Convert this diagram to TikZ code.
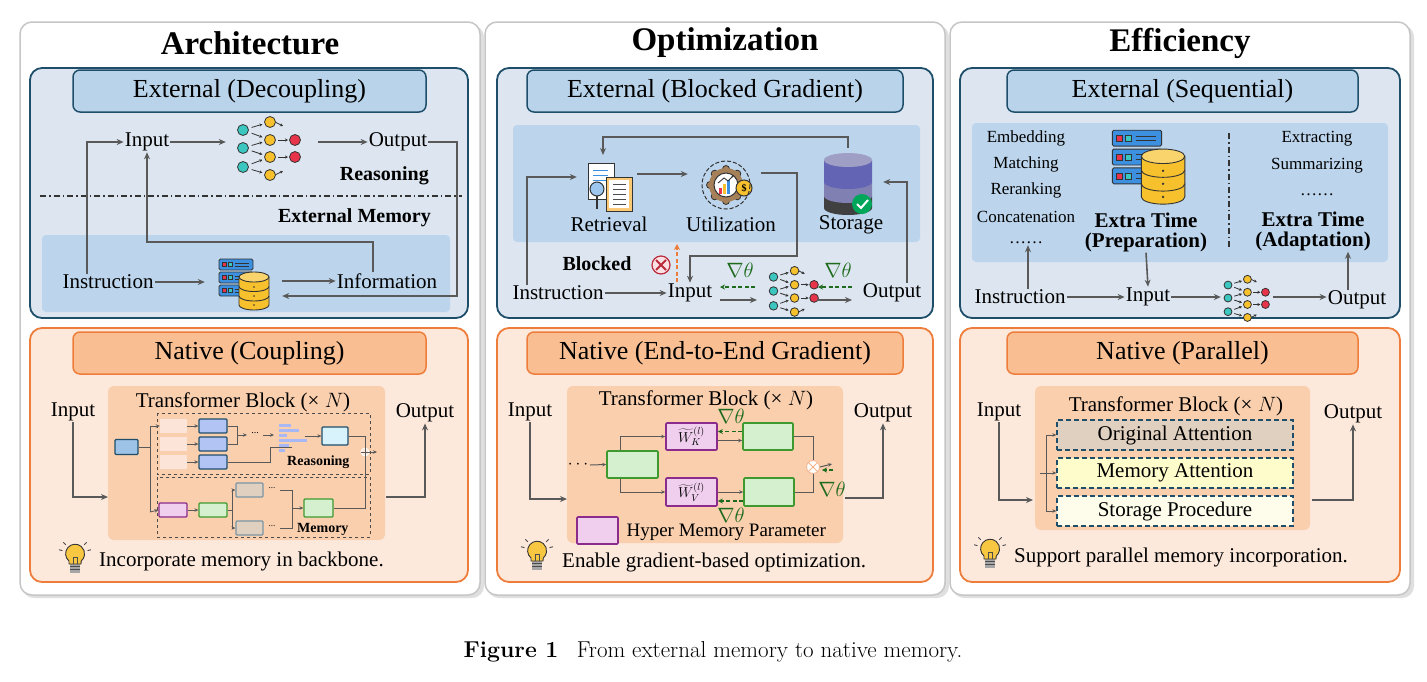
\documentclass[tikz,border=0pt]{standalone}
\usepackage{fontspec}
\setmainfont{Liberation Serif}
\newfontfamily\lmr{Latin Modern Roman}
\usetikzlibrary{arrows.meta,calc}
\definecolor{agray}{HTML}{595959}
\definecolor{extfill}{HTML}{DDE6F0}
\definecolor{extline}{HTML}{1F4E6B}
\definecolor{exthead}{HTML}{B9D4EA}
\definecolor{extin}{HTML}{BCD5EC}
\definecolor{natfill}{HTML}{FDE9DC}
\definecolor{natline}{HTML}{EE7D3B}
\definecolor{nathead}{HTML}{F9BF92}
\definecolor{tblock}{HTML}{F9CFAE}
\definecolor{nteal}{HTML}{3CC6C0}
\definecolor{nyel}{HTML}{F7C12D}
\definecolor{nred}{HTML}{E8344A}
\definecolor{srvblue}{HTML}{3D8FE0}
\definecolor{gdark}{HTML}{1E6B1E}
\definecolor{gbox}{HTML}{D5F0CF}
\definecolor{gboxl}{HTML}{3E9A2E}
\definecolor{pbox}{HTML}{F0CFEE}
\definecolor{pboxl}{HTML}{8B2B8B}
\definecolor{bbox}{HTML}{9DC3E6}
\definecolor{bboxl}{HTML}{1F4E6B}
\definecolor{tanbox}{HTML}{E0D0C0}
\newcommand{\myfs}[1]{\fontsize{#1}{#1}\selectfont}
\tikzset{
  arr/.style={draw=agray, line width=1.6pt, -{Stealth[length=7pt,width=6pt]}},
  sarr/.style={draw=agray, line width=0.8pt, -{Stealth[length=4pt,width=3.5pt]}},
  garr/.style={draw=gdark, line width=1.4pt, dashed, dash pattern=on 4pt off 2.5pt, -{Stealth[length=5pt,width=5pt]}},
  lbl/.style={font=\myfs{21}, inner sep=1pt},
  sml/.style={font=\myfs{17}, inner sep=1pt},
  bl/.style={font=\myfs{20}\bfseries, inner sep=1pt},
  ttl/.style={font=\myfs{33}\bfseries},
  col/.style={draw=gray!45, line width=1.5pt, fill=white, rounded corners=12pt},
  ext/.style={draw=extline, line width=1.8pt, fill=extfill, rounded corners=12pt},
  exth/.style={draw=extline, line width=1.5pt, fill=exthead, rounded corners=7pt, font=\myfs{26}},
  nat/.style={draw=natline, line width=1.8pt, fill=natfill, rounded corners=12pt},
  nath/.style={draw=natline, line width=1.5pt, fill=nathead, rounded corners=7pt, font=\myfs{26}},
  icon/.style={inner sep=0pt, minimum width=#1, minimum height=#1},
  bx/.style={draw=#1, line width=1.2pt, rounded corners=1pt},
  grad/.style={text=gdark, font=\myfs{22}, inner sep=0pt},
  dbx/.style={draw=extline, line width=1.3pt, dashed, dash pattern=on 5pt off 3pt, font=\myfs{21}, minimum width=236pt, minimum height=30pt, inner sep=0pt},
  nn/.pic={
    \foreach \p/\q/\r/\s in {-25/-18/2/-26,-25/-18/2/-8,-25/0/2/-8,-25/0/2/9,-25/19/2/9,-25/19/2/27,2/-8/27/-8,2/9/27/9}
      {\draw[black!80, line width=0.8pt, -{Stealth[length=3pt,width=3pt]}] ($(\p,\q)!0.32!(\r,\s)$) -- ($(\p,\q)!0.72!(\r,\s)$);}
    \draw[black!80, line width=0.8pt, -{Stealth[length=3pt,width=3pt]}] (7,-26) -- (15,-22);
    \draw[black!80, line width=0.8pt, -{Stealth[length=3pt,width=3pt]}] (7,27) -- (15,23);
    \foreach \y in {-18,0,19}{\fill[nteal, draw=black!80, line width=0.8pt] (-25,\y) circle (5.5);}
    \foreach \y in {-26,-8,9,27}{\fill[nyel, draw=black!80, line width=0.8pt] (2,\y) circle (5.5);}
    \foreach \y in {-8,9}{\fill[nred, draw=black!80, line width=0.8pt] (27,\y) circle (5.5);}
  },
  db/.pic={
    \foreach \y in {-24,-11,2}{
      \draw[fill=srvblue, draw=black!80, line width=0.9pt, rounded corners=1.5pt] (-26,\y) rectangle (8,\y+11);
      \fill[nred, draw=black!80, line width=0.5pt] (-23,\y+3.5) rectangle (-19,\y+7.5);
      \fill[nteal, draw=black!80, line width=0.5pt] (-17,\y+3.5) rectangle (-13,\y+7.5);
      \draw[black!80, line width=0.9pt] (-10,\y+4) -- (4,\y+4) (-10,\y+7) -- (4,\y+7);}
    \draw[fill=nyel, draw=black!80, line width=0.9pt] (-6,-6) -- (-6,22) arc[start angle=180,end angle=0,x radius=15,y radius=5] -- (24,-6);
    \draw[draw=black!80, line width=0.9pt] (-6,3.5) arc[start angle=180,end angle=0,x radius=15,y radius=5];
    \draw[draw=black!80, line width=0.9pt] (-6,13) arc[start angle=180,end angle=0,x radius=15,y radius=5];
    \draw[fill=nyel!70, draw=black!80, line width=0.9pt] (9,-6) ellipse[x radius=15,y radius=5];
    \foreach \y in {4,13,22}{\fill[black!80] (9,\y) circle (0.9);}
  },
  bulb/.pic={
    \fill[gray!70] (-5,4) rectangle (5,13);
    \draw[black!70, line width=0.6pt] (-5,6.5) -- (5,6.5) (-5,9.5) -- (5,9.5);
    \draw[fill=nyel!90, draw=black!80, line width=0.9pt] (-6,4) -- (-6,1) arc[start angle=130,end angle=410,radius=9.5] -- (6,4) -- cycle;
    \draw[black!70, line width=0.8pt] (-2,4) -- (-2,-3) -- (2,-3) -- (2,4);
    \foreach \a in {195,225,315,345}{\draw[black!70, line width=0.9pt] ($(0,-6)+(\a:13)$) -- ($(0,-6)+(\a:16.5)$);}
  },
}
\begin{document}
\begin{tikzpicture}[x=1pt,y=-1pt]
\useasboundingbox[fill=white] (0,0) rectangle (1427,681);
% columns
\foreach \x in {20,485,950}{
  \fill[gray!25, rounded corners=12pt] (\x+2,25) rectangle (\x+464,598);
  \draw[col] (\x,22) rectangle (\x+460,595);}
\node[ttl] (t1) at (250,43) {Architecture};
\node[ttl] (t2) at (725,43) {Optimization};
\node[ttl] (t3) at (1180,43) {Efficiency};
% ===== boxes
\draw[ext] (30,68) rectangle (468,318);
\draw[ext] (497,68) rectangle (933,318);
\draw[ext] (960,68) rectangle (1400,318);
\draw[nat] (30,328) rectangle (468,582);
\draw[nat] (497,328) rectangle (933,582);
\draw[nat] (960,328) rectangle (1400,582);
\node[exth, minimum width=353pt, minimum height=42pt] (h1) at (249.5,91) {External (Decoupling)};
\node[exth, minimum width=376pt, minimum height=42pt] (h2) at (715,91) {External (Blocked Gradient)};
\node[exth, minimum width=351pt, minimum height=42pt] (h3) at (1182.5,91) {External (Sequential)};
\node[nath, minimum width=353pt, minimum height=42pt] (n1) at (249.5,353) {Native (Coupling)};
\node[nath, minimum width=376pt, minimum height=42pt] (n2) at (715,353) {Native (End-to-End Gradient)};
\node[nath, minimum width=351pt, minimum height=42pt] (n3) at (1182.5,353) {Native (Parallel)};

% ===== Col1 external
\fill[extin, rounded corners=4pt] (42,235) rectangle (450,312);
\draw[black!80, line width=1.2pt, dash pattern=on 6pt off 3pt on 1.5pt off 3pt] (40,196) -- (462,196);
\node[lbl] (in1) at (147,142) {Input};
\node[icon=60pt] (nn1) at (268,148) {};
\pic at (nn1.center) {nn};
\node[lbl] (out1) at (398,142) {Output};
\node[bl, anchor=east] (rs1) at (430,176) {Reasoning};
\node[bl, anchor=east] (em1) at (432,218) {External Memory};
\node[lbl] (ins1) at (108,282) {Instruction};
\node[icon=50pt] (db1) at (245,283) {};
\pic at (db1.center) {db};
\node[lbl] (inf1) at (387,281) {Information};
\draw[arr] ([xshift=-21pt]ins1.north) |- (in1.west);
\draw[arr] (in1.east) -- ([xshift=-12pt]nn1.west |- in1.east);
\draw[arr] ([xshift=20pt]nn1.east |- out1.west) -- (out1.west);
\coordinate (c11) at (457,296);
\draw[arr] (out1.east) -| (c11) -- ([xshift=12pt]db1.east |- c11);
\draw[arr] (ins1.east) -- ([xshift=-15pt]db1.west |- ins1.east);
\draw[arr] ([xshift=12pt]db1.east |- inf1.west) -- (inf1.west);
\coordinate (c12) at (147,242);
\draw[arr] ([xshift=-14pt]inf1.north) |- (c12) -- (in1.south);

% ===== Col1 native
\fill[tblock, rounded corners=6pt] (108,386) rectangle (385,540);
\node[lbl] (tb1) at (243,402) {Transformer Block (\texttimes{} $N$)};
\node[lbl] (ni1) at (73,412) {Input};
\node[lbl] (no1) at (425,413) {Output};
\draw[arr] (ni1.south) |- (108,497);
\draw[arr] (386,497) -| (no1.south);
\draw[black!70, line width=1pt, dashed] (157,413) rectangle (370,474);
\draw[black!70, line width=1pt, dashed] (157,477) rectangle (370,537);
\node[font=\myfs{14}\bfseries, anchor=east] (rs1b) at (353,462) {Reasoning};
\node[font=\myfs{14}\bfseries, anchor=east] (me1b) at (352,529) {Memory};
\node[bx=bboxl, fill=bbox, minimum width=23pt, minimum height=15pt] (b0) at (126.5,447) {};
\foreach \y/\n in {426/1,444/2,462/3}{
  \node[fill=natline!20, minimum width=27pt, minimum height=14pt, inner sep=0] (p\n) at (173.5,\y) {};
  \node[bx=bboxl, fill=bbox!80!blue!60, minimum width=28pt, minimum height=14pt, inner sep=0] (q\n) at (213,\y) {};
  \draw[sarr] (p\n.east) -- (q\n.west);}
\draw[agray, line width=0.8pt] (b0.east) -- (150,447);
\draw[agray, line width=0.8pt] (150,426) -- (150,512);
\draw[sarr] (150,426) -- (p1.west);
\draw[agray, line width=0.8pt] (q1.east) -| (237,435) (q2.east) -| (237,435);
\draw[sarr] (237,435) -- (247,435);
\node[font=\myfs{10}] (dd1) at (255,433) {...};
\draw[sarr] (263,435) -- (274,435);
\foreach \y/\w in {424/12,429/20,434/8,439/28,444/10,449/6}{\fill[bbox!70!blue!60] (279,\y) rectangle (279+\w,\y+3);}
\node[bx=bboxl, fill=cyan!15, minimum width=26pt, minimum height=18pt, inner sep=0] (lb1) at (335,436) {};
\draw[sarr] (305,436) -- (lb1.west);
\draw[agray, line width=0.8pt] (q3.east) -- (270,462) -- (270,447) -- (292,447);
\node[circle, draw=white, fill=natfill, line width=0.8pt, minimum size=8pt, inner sep=0] (pl1) at (365,452) {};
\draw[agray, line width=0.6pt] (361,452) -- (369,452) (365,448) -- (365,456);
\draw[agray, line width=0.8pt] (lb1.east) -| (pl1.north);
\draw[sarr] (pl1.east) -- (377,452);
\node[bx=pboxl, fill=pbox, minimum width=28pt, minimum height=14pt, inner sep=0] (pk1) at (173,510) {};
\node[bx=gboxl, fill=gbox, minimum width=28pt, minimum height=14pt, inner sep=0] (gm1) at (213,510) {};
\node[bx=bboxl!60, fill=tanbox, minimum width=27pt, minimum height=14pt, inner sep=0] (ta1) at (249.5,490) {};
\node[bx=bboxl!60, fill=tanbox, minimum width=27pt, minimum height=14pt, inner sep=0] (ta2) at (249.5,528) {};
\node[bx=gboxl, fill=gbox, minimum width=29pt, minimum height=18pt, inner sep=0] (gb1) at (318.5,508) {};
\draw[sarr] (150,512) -- (pk1.west);
\draw[sarr] (pk1.east) -- (gm1.west);
\draw[sarr] (gm1.east) -- (232,510) |- (ta1.west);
\draw[sarr] (232,510) |- (ta2.west);
\node[font=\myfs{9}] at (272,488) {...};
\node[font=\myfs{9}] at (272,526) {...};
\draw[agray, line width=0.8pt] (280,490) -| (292,528) -- (280,528);
\draw[sarr] (292,508) -- (gb1.west);
\draw[agray, line width=0.8pt] (gb1.east) -| (pl1.south);
\pic at (75,560) {bulb};
\node[lbl, anchor=west] (tip1) at (98,561) {Incorporate memory in backbone.};

% ===== Col2 external
\fill[extin, rounded corners=4pt] (513,125) rectangle (920,242);
\node[icon=50pt] (rt2) at (610,187) {};
\begin{scope}[shift={(rt2.center)}]
  \draw[fill=white, draw=black!80, line width=1pt] (-22,-24) rectangle (4,12);
  \foreach \y in {-17,-12,-7}{\draw[srvblue, line width=1pt] (-17,\y) -- (-2,\y);}
  \draw[fill=nyel!60!orange!60, draw=black!80, line width=1pt] (-4,-10) rectangle (22,24);
  \fill[white] (-1,-7) rectangle (19,21);
  \foreach \y in {-3,2,7,12,17}{\draw[black!70, line width=1pt] (3,\y) -- (16,\y);}
  \draw[black!80, line width=1.5pt] (-13,8) -- (-13,22);
  \draw[fill=srvblue!50, draw=black!80, line width=1pt] (-13,2) circle (7);
\end{scope}
\node[lbl] (rtl) at (609,224) {Retrieval};
\node[icon=50pt] (ut2) at (730,185) {};
\begin{scope}[shift={(ut2.center)}]
  \foreach \a in {0,45,...,315}{\fill[brown!60!gray, draw=black!80, line width=0.8pt] ($(-4,0)+(\a:16)$) circle (3.5);}
  \fill[brown!60!gray] (-4,0) circle (17);
  \draw[fill=white, draw=black!80, line width=1pt] (-4,0) circle (12);
  \fill[nred] (-11,3) rectangle (-8,9); \fill[nyel] (-7,-1) rectangle (-4,9); \fill[srvblue] (-3,-5) rectangle (0,9);
  \draw[black!80, line width=0.9pt, -{Stealth[length=3pt]}] (-12,-2) -- (-6,-7) -- (-2,-4) -- (4,-10);
  \draw[fill=nyel, draw=black!80, line width=1pt] (14,3) circle (8);
  \node[font=\myfs{10}\bfseries] at (14,3) {\$};
  \draw[black!80, line width=1pt, dash pattern=on 4pt off 2pt] (-4,0) circle (24);
\end{scope}
\node[lbl] (utl) at (731,224) {Utilization};
\node[icon=50pt] (st2) at (848,182) {};
\begin{scope}[shift={(st2.center)}]
  \fill[black!75] (-24,14) -- (-24,26) arc[start angle=180,end angle=0,x radius=24,y radius=7] -- (24,14) -- cycle;
  \fill[black!60!blue!50] (-24,0) -- (-24,14) arc[start angle=180,end angle=0,x radius=24,y radius=7] -- (24,0) -- cycle;
  \fill[blue!35!gray!90] (-24,-22) -- (-24,0) arc[start angle=180,end angle=0,x radius=24,y radius=7] -- (24,-22) -- cycle;
  \fill[blue!25!gray!60] (0,-22) ellipse[x radius=24, y radius=7];
  \fill[teal!70!green] (14,22) circle (10);
  \draw[white, line width=2pt] (9,22) -- (13,26) -- (20,18);
\end{scope}
\node[lbl] (stl) at (851,225) {Storage};
\node[lbl] (ins2) at (558,293) {Instruction};
\node[lbl] (in2) at (690,293) {Input};
\node[icon=50pt] (nn2) at (793,291) {};
\pic[scale=0.78] at (nn2.center) {nn};
\node[lbl] (out2) at (892,293) {Output};
\node[bl] (blk) at (597,264) {Blocked};
\node[circle, draw=nred!80!black, fill=nred!15, line width=1.2pt, minimum size=18pt, inner sep=0] (x2) at (661,265) {};
\draw[nred!80!black, line width=2pt] ($(x2.center)+(-5,-5)$) -- ($(x2.center)+(5,5)$) ($(x2.center)+(-5,5)$) -- ($(x2.center)+(5,-5)$);
\coordinate (bk2) at (677,244);
\draw[draw=natline, line width=1.6pt, dashed, dash pattern=on 4pt off 2.5pt, -{Stealth[length=6pt,width=6pt]}] (677,282) -- (bk2);
\node[grad] (g21) at (740,270) {$\nabla\theta$};
\node[grad] (g22) at (838,270) {$\nabla\theta$};
\draw[garr] (755,287) -- (720,287);
\draw[garr] (852,287) -- (818,287);
\draw[arr] (720,300) -- (757,300);
\draw[arr] (817,300) -- (852,300);
\draw[arr] (ins2.east) -- (in2.west);
\draw[arr] ([xshift=-31pt]ins2.north) |- ([xshift=-8pt,yshift=10pt]rt2.west);
\draw[arr] ([xshift=2pt,yshift=13pt]rt2.east) -- ([xshift=-17pt,yshift=11pt]ut2.west);
\coordinate (c21) at (797,256);
\draw[arr] ([xshift=6pt,yshift=12pt]ut2.east) -| (c21) -| (in2.north);
\coordinate (c22) at (603,137);
\draw[arr] ([yshift=9pt]st2.north) |- (c22) -- (603,155);
\draw[arr] ([xshift=15pt]out2.north) |- ([xshift=10pt]st2.east);

% ===== Col2 native
\fill[tblock, rounded corners=6pt] (567,386) rectangle (843,543);
\node[lbl] (tb2) at (706,400) {Transformer Block (\texttimes{} $N$)};
\node[lbl] (ni2) at (530,412) {Input};
\node[lbl] (no2) at (883,413) {Output};
\draw[arr] (ni2.south) |- (567,499);
\draw[arr] (845,498) -| (no2.south);
\node[font=\myfs{16}] (dt2) at (578,465) {$\cdots$};
\node[bx=gboxl, fill=gbox, line width=1.6pt, minimum width=51pt, minimum height=27pt, inner sep=0] (g0) at (632.5,464.5) {};
\node[bx=pboxl, fill=pbox, line width=1.6pt, minimum width=51pt, minimum height=27pt, inner sep=0, font=\myfs{14}] (wk) at (691.5,436.5) {$\widetilde{W}_K^{(l)}$};
\node[bx=pboxl, fill=pbox, line width=1.6pt, minimum width=51pt, minimum height=28pt, inner sep=0, font=\myfs{14}] (wv) at (691.5,492) {$\widetilde{W}_V^{(l)}$};
\node[bx=gboxl, fill=gbox, line width=1.6pt, minimum width=50pt, minimum height=27pt, inner sep=0] (g1) at (768,436.5) {};
\node[bx=gboxl, fill=gbox, line width=1.6pt, minimum width=50pt, minimum height=28pt, inner sep=0] (g2) at (769,492) {};
\draw[sarr, line width=1pt] (590,465) -- (g0.west);
\draw[sarr, line width=1pt] ([xshift=-12pt]g0.north) |- (wk.west);
\draw[sarr, line width=1pt] ([xshift=-12pt]g0.south) |- (wv.west);
\draw[sarr, line width=1pt] ([yshift=-4pt]wk.east) -- ([yshift=-4pt]g1.west);
\draw[sarr, line width=1pt] ([yshift=0pt]wv.east) -- ([yshift=0pt]g2.west);
\draw[garr, line width=1.1pt] ([yshift=5pt]g1.west) -- ([yshift=5pt]wk.east);
\draw[garr, line width=1.1pt] ([yshift=-9pt]g2.west) -- ([yshift=-9pt]wv.east);
\node[grad] (g23) at (731,416) {$\nabla\theta$};
\node[grad] (g24) at (731,515) {$\nabla\theta$};
\node[circle, draw=natline!60, fill=white, line width=0.8pt, minimum size=13pt, inner sep=0] (ot2) at (813,467) {};
\draw[natline!60, line width=0.8pt] ($(ot2.center)+(-4.5,-4.5)$) -- ($(ot2.center)+(4.5,4.5)$) ($(ot2.center)+(-4.5,4.5)$) -- ($(ot2.center)+(4.5,-4.5)$);
\draw[agray, line width=1pt] (g1.east) -| (ot2.north);
\draw[agray, line width=1pt] (g2.east) -| (ot2.south);
\draw[sarr, line width=1pt] (ot2.east) -- (832,464);
\draw[garr, line width=1.1pt] (833,470) -- (822,470);
\node[grad] (g25) at (832,489) {$\nabla\theta$};
\node[bx=pboxl, fill=pbox, line width=1.6pt, minimum width=41pt, minimum height=27pt, inner sep=0] (lg2) at (597.5,530.5) {};
\node[font=\myfs{19}, anchor=west] (lgt) at (623,532) {Hyper Memory Parameter};
\pic at (537,557) {bulb};
\node[lbl, anchor=west] (tip2) at (561,562) {Enable gradient-based optimization.};

% ===== Col3 external
\fill[extin, rounded corners=4pt] (972,123) rectangle (1388,262);
\node[sml] (e1) at (1026,138) {Embedding};
\node[sml] (e2) at (1026,164) {Matching};
\node[sml] (e3) at (1026,190) {Reranking};
\node[sml] (e4) at (1026,217) {Concatenation};
\node[sml] (e5) at (1026,243) {\textellipsis\textellipsis};
\node[icon=70pt] (db3) at (1150,165) {};
\pic[scale=1.45] at (db3.center) {db};
\node[bl, font=\myfs{21}\bfseries, align=center] (pr3) at (1146,232) {Extra Time\\[-1pt](Preparation)};
\draw[black!80, line width=1.2pt, dash pattern=on 6pt off 3pt on 1.5pt off 3pt] (1229,133) -- (1229,250);
\node[sml] (x1) at (1317,139) {Extracting};
\node[sml] (x2) at (1317,166) {Summarizing};
\node[sml] (x3) at (1317,195) {\textellipsis\textellipsis};
\node[bl, font=\myfs{21}\bfseries, align=center] (ad3) at (1313,231) {Extra Time\\[-1pt](Adaptation)};
\node[lbl] (ins3) at (1020,297) {Instruction};
\node[lbl] (in3) at (1148,297) {Input};
\node[icon=46pt] (nn3) at (1246,298) {};
\pic[scale=0.72] at (nn3.center) {nn};
\node[lbl] (out3) at (1357,300) {Output};
\draw[arr] ([xshift=8pt]ins3.north) -- ([xshift=8pt]ins3.north |- e5.south);
\draw[arr] (pr3.south) -- (in3.north);
\draw[arr] (ins3.east) -- (in3.west);
\draw[arr] (in3.east) -- ([xshift=-2pt]nn3.west |- in3.east);
\draw[arr] ([xshift=4pt]nn3.east |- in3.east) -- ([yshift=3pt]out3.west);
\draw[arr] ([xshift=-9pt]out3.north) -- ([xshift=-9pt]out3.north |- ad3.south);

% ===== Col3 native
\fill[tblock, rounded corners=6pt] (1035,386) rectangle (1310,530);
\node[lbl] (tb3) at (1176,406) {Transformer Block (\texttimes{} $N$)};
\node[lbl] (ni3) at (999,412) {Input};
\node[lbl] (no3) at (1353,414) {Output};
\node[dbx, fill=tanbox] (oa) at (1175,435) {Original Attention};
\node[dbx, fill=yellow!20] (ma) at (1175,473) {Memory Attention};
\node[dbx, fill=gray!10!yellow!8] (sp) at (1175,511) {Storage Procedure};
\draw[arr] (ni3.south) |- (1033,500);
\draw[arr] (1312,500) -| (no3.south);
\draw[agray, line width=0.8pt] (1040,473) -- (1046,473) (1046,435) -- (1046,511);
\draw[sarr] (1046,435) -- (oa.west);
\draw[sarr] (1046,473) -- (ma.west);
\draw[sarr] (1046,511) -- (sp.west);
\pic at (990,555) {bulb};
\node[lbl, anchor=west] (tip3) at (1013,557) {Support parallel memory incorporation.};

% caption
\node[font=\lmr\myfs{23}] (cap) at (713,652) {\textbf{Figure 1}\hspace{0.8em}From external memory to native memory.};
\end{tikzpicture}
\end{document}
